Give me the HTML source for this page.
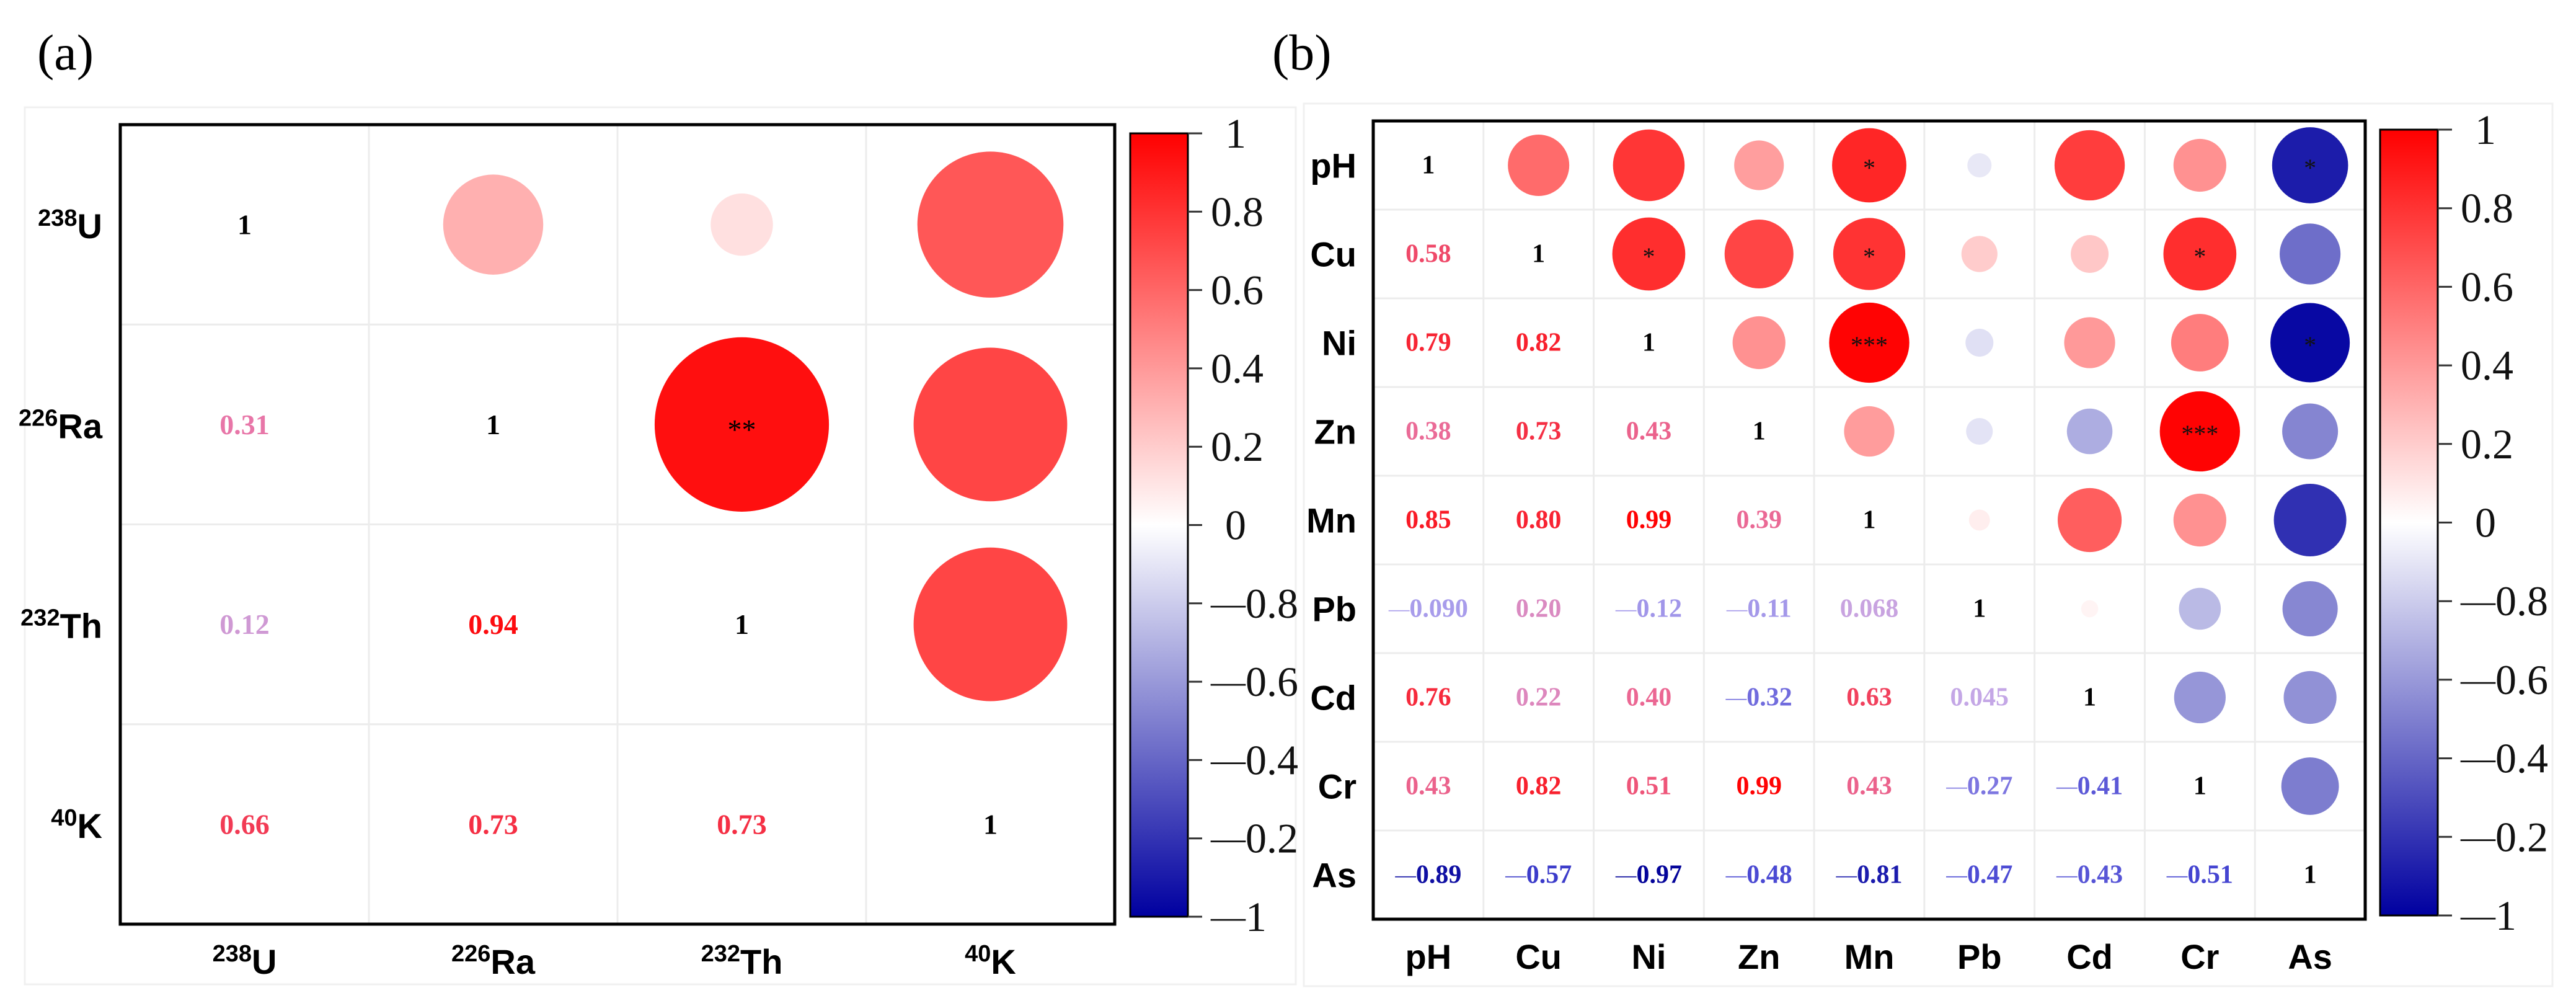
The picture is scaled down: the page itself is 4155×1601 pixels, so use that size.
<!DOCTYPE html>
<html><head><meta charset="utf-8"><style>
html,body{margin:0;padding:0;background:#fff;}
svg{display:block;}
</style></head><body>
<svg id="fig" width="4155" height="1601" viewBox="0 0 4155 1601" xmlns="http://www.w3.org/2000/svg">
<rect x="0" y="0" width="4155" height="1601" fill="#fff"/>
<rect x="40" y="173" width="2050" height="1414" fill="none" stroke="#f0f0f0" stroke-width="3"/>
<rect x="2103" y="167" width="2014" height="1423" fill="none" stroke="#f0f0f0" stroke-width="3"/>
<text x="60" y="112" font-family="Liberation Serif, serif" font-size="82">(a)</text>
<text x="2052" y="112" font-family="Liberation Serif, serif" font-size="82">(b)</text>
<g id="gA"></g>
<g id="gB"></g>
</svg>
<script>
// Panel (a) data
const labelsA = [["238","U"],["226","Ra"],["232","Th"],["40","K"]];
const corrA = [
 [1,0.31,0.12,0.66],
 [0.31,1,0.94,0.73],
 [0.12,0.94,1,0.73],
 [0.66,0.73,0.73,1]];
const textA = [
 ["1","","",""],
 ["0.31","1","",""],
 ["0.12","0.94","1",""],
 ["0.66","0.73","0.73","1"]];
const starsA = [["","","",""],["","","**",""],["","","",""],["","","",""]];
// Panel (b) data
const labelsB = ["pH","Cu","Ni","Zn","Mn","Pb","Cd","Cr","As"];
const lowerB = [
 [],
 [0.58],
 [0.79,0.82],
 [0.38,0.73,0.43],
 [0.85,0.80,0.99,0.39],
 [-0.090,0.20,-0.12,-0.11,0.068],
 [0.76,0.22,0.40,-0.32,0.63,0.045],
 [0.43,0.82,0.51,0.99,0.43,-0.27,-0.41],
 [-0.89,-0.57,-0.97,-0.48,-0.81,-0.47,-0.43,-0.51]];
const lowerTextB = [
 [],
 ["0.58"],
 ["0.79","0.82"],
 ["0.38","0.73","0.43"],
 ["0.85","0.80","0.99","0.39"],
 ["-0.090","0.20","-0.12","-0.11","0.068"],
 ["0.76","0.22","0.40","-0.32","0.63","0.045"],
 ["0.43","0.82","0.51","0.99","0.43","-0.27","-0.41"],
 ["-0.89","-0.57","-0.97","-0.48","-0.81","-0.47","-0.43","-0.51"]];
const starsB = [["pH","Mn","*"],["pH","As","*"],["Cu","Ni","*"],["Cu","Mn","*"],["Cu","Cr","*"],["Ni","Mn","***"],["Ni","As","*"],["Zn","Cr","***"]];
const cbTicks = [1,0.8,0.6,0.4,0.2,0,-0.2,-0.4,-0.6,-0.8,-1];
const cbTickLabels = ["1","0.8","0.6","0.4","0.2","0","-0.8","-0.6","-0.4","-0.2","-1"];

const NS="http://www.w3.org/2000/svg";
function mk(parent,tag,attrs){const e=document.createElementNS(NS,tag);for(const k in attrs)e.setAttribute(k,attrs[k]);parent.appendChild(e);return e;}
function lerp(a,b,t){return Math.round(a+(b-a)*t);}
function fillColor(r){
  if(r>=0){const t=r;return `rgb(255,${lerp(255,0,t)},${lerp(255,0,t)})`;}
  const t=-r;return `rgb(${lerp(255,0,t)},${lerp(255,0,t)},${lerp(255,160,t)})`;
}
const tstops=[[-1,[0,0,150]],[-0.5,[70,70,210]],[0,[190,175,240]],[0.3,[232,120,170]],[0.6,[240,70,100]],[1,[255,0,0]]];
function textColor(r){
  for(let i=0;i<tstops.length-1;i++){const [a,ca]=tstops[i],[b,cb]=tstops[i+1];
    if(r>=a&&r<=b){const t=(r-a)/(b-a);return `rgb(${lerp(ca[0],cb[0],t)},${lerp(ca[1],cb[1],t)},${lerp(ca[2],cb[2],t)})`;}}
  return "#000";
}
function numText(g,x,y,str,val,size){
  const t=mk(g,"text",{x:x,y:y,"text-anchor":"middle","dominant-baseline":"central","font-family":"Liberation Serif, serif","font-weight":"bold","font-size":size,fill:val===1?"#000":textColor(val)});
  if(str.startsWith("-")){
    const s=mk(t,"tspan",{"font-size":size*0.8,"font-weight":"normal"});s.textContent="—";
    const s2=mk(t,"tspan",{});s2.textContent=str.slice(1);
  } else t.textContent=str;
  return t;
}
function colorbar(g,id,x,y0,y1,w){
  const defs=mk(g,"defs",{});
  const lg=mk(defs,"linearGradient",{id:id,x1:0,y1:0,x2:0,y2:1});
  mk(lg,"stop",{offset:"0",  "stop-color":fillColor(1)});
  mk(lg,"stop",{offset:"0.5","stop-color":"#ffffff"});
  mk(lg,"stop",{offset:"1",  "stop-color":fillColor(-1)});
  const cb=mk(g,"rect",{x:x,y:y0,width:w,height:y1-y0,fill:`url(#${id})`,stroke:"#000","stroke-width":3});
  
  
  const cy=v=>y0+(1-v)/2*(y1-y0);
  cbTicks.forEach((v,i)=>{
    const yy=cy(v);
    mk(g,"line",{x1:x+w,x2:x+w+23,y1:yy,y2:yy,stroke:"#333","stroke-width":3});
    const lab=cbTickLabels[i];
    const t=mk(g,"text",{x:x+w+37,y:yy,"dominant-baseline":"central","font-family":"Liberation Serif, serif","font-size":68,fill:"#111"});
    
    
    if(lab.startsWith("-")){const s=mk(t,"tspan",{"font-size":56});s.textContent="—";const s2=mk(t,"tspan",{});s2.textContent=lab.slice(1);}
    else{t.setAttribute("x",x+w+(lab.length===1?60:37));t.textContent=lab;}
  });
}
function gridPanel(g,L,T,R,B,n){
  const cw=(R-L)/n,ch=(B-T)/n;
  for(let i=1;i<n;i++){
    mk(g,"line",{x1:L+i*cw,x2:L+i*cw,y1:T,y2:B,stroke:"#ececec","stroke-width":3});
    mk(g,"line",{x1:L,x2:R,y1:T+i*ch,y2:T+i*ch,stroke:"#ececec","stroke-width":3});
  }
  return [cw,ch];
}
// ---- Panel A ----
(function(){
  const g=document.getElementById("gA");
  const L=194,T=201,R=1798,B=1490,n=labelsA.length;
  const [cw,ch]=gridPanel(g,L,T,R,B,n);
  const cx=j=>L+(j+0.5)*cw, cy=i=>T+(i+0.5)*ch, maxD=290;
  for(let i=0;i<n;i++)for(let j=0;j<n;j++){
    const v=corrA[i][j];
    if(j>i){
      const c=mk(g,"circle",{cx:cx(j),cy:cy(i),r:maxD/2*Math.sqrt(Math.abs(v)),fill:fillColor(v)});
      
      
    } else {
      const t=numText(g,cx(j),cy(i),textA[i][j],v,46);
      
      
    }
    if(starsA[i][j]){mk(g,"text",{x:cx(j),y:cy(i)+8,"text-anchor":"middle","dominant-baseline":"central","font-family":"Liberation Serif, serif","font-size":46,fill:"#000"}).textContent=starsA[i][j];}
  }
  mk(g,"rect",{x:L,y:T,width:R-L,height:B-T,fill:"none",stroke:"#000","stroke-width":5});
  labelsA.forEach((lb,i)=>{
    const t=mk(g,"text",{x:165,y:cy(i)+22,"text-anchor":"end","font-family":"Liberation Sans, sans-serif","font-weight":"bold","font-size":56});
    
    
    const s=mk(t,"tspan",{"font-size":38,dy:-20});s.textContent=lb[0];
    const s2=mk(t,"tspan",{dy:20});s2.textContent=lb[1];
    const t2=mk(g,"text",{x:cx(i),y:1570,"text-anchor":"middle","font-family":"Liberation Sans, sans-serif","font-weight":"bold","font-size":56});
    
    
    const u=mk(t2,"tspan",{"font-size":38,dy:-20});u.textContent=lb[0];
    const u2=mk(t2,"tspan",{dy:20});u2.textContent=lb[1];
  });
  colorbar(g,"gradA",1823,215,1478,93);
})();
// ---- Panel B ----
(function(){
  const g=document.getElementById("gB");
  const L=2215,T=195,R=3815,B=1482,n=labelsB.length;
  const [cw,ch]=gridPanel(g,L,T,R,B,n);
  const cx=j=>L+(j+0.5)*cw, cy=i=>T+(i+0.5)*ch, maxD=130;
  const val=(i,j)=>i===j?1:(i>j?lowerB[i][j]:lowerB[j][i]);
  for(let i=0;i<n;i++)for(let j=0;j<n;j++){
    const v=val(i,j);
    if(j>i){
      const c=mk(g,"circle",{cx:cx(j),cy:cy(i),r:maxD/2*Math.sqrt(Math.abs(v)),fill:fillColor(v)});
      
      
    } else {
      const t=numText(g,cx(j),cy(i),i===j?"1":lowerTextB[i][j],v,42);
      
      
    }
  }
  starsB.forEach(s=>{
    const i=labelsB.indexOf(s[0]),j=labelsB.indexOf(s[1]);
    const t=mk(g,"text",{x:cx(j),y:cy(i)+4,"text-anchor":"middle","dominant-baseline":"central","font-family":"Liberation Serif, serif","font-size":40,fill:"#111"});
    
    
    t.textContent=s[2];
  });
  mk(g,"rect",{x:L,y:T,width:R-L,height:B-T,fill:"none",stroke:"#000","stroke-width":5});
  labelsB.forEach((lb,i)=>{
    const t=mk(g,"text",{x:2188,y:cy(i)+20,"text-anchor":"end","font-family":"Liberation Sans, sans-serif","font-weight":"bold","font-size":56});
    
    
    t.textContent=lb;
    const t2=mk(g,"text",{x:cx(i),y:1562,"text-anchor":"middle","font-family":"Liberation Sans, sans-serif","font-weight":"bold","font-size":56});
    
    
    t2.textContent=lb;
  });
  colorbar(g,"gradB",3839,209,1476,93);
})();
</script>
</body></html>
